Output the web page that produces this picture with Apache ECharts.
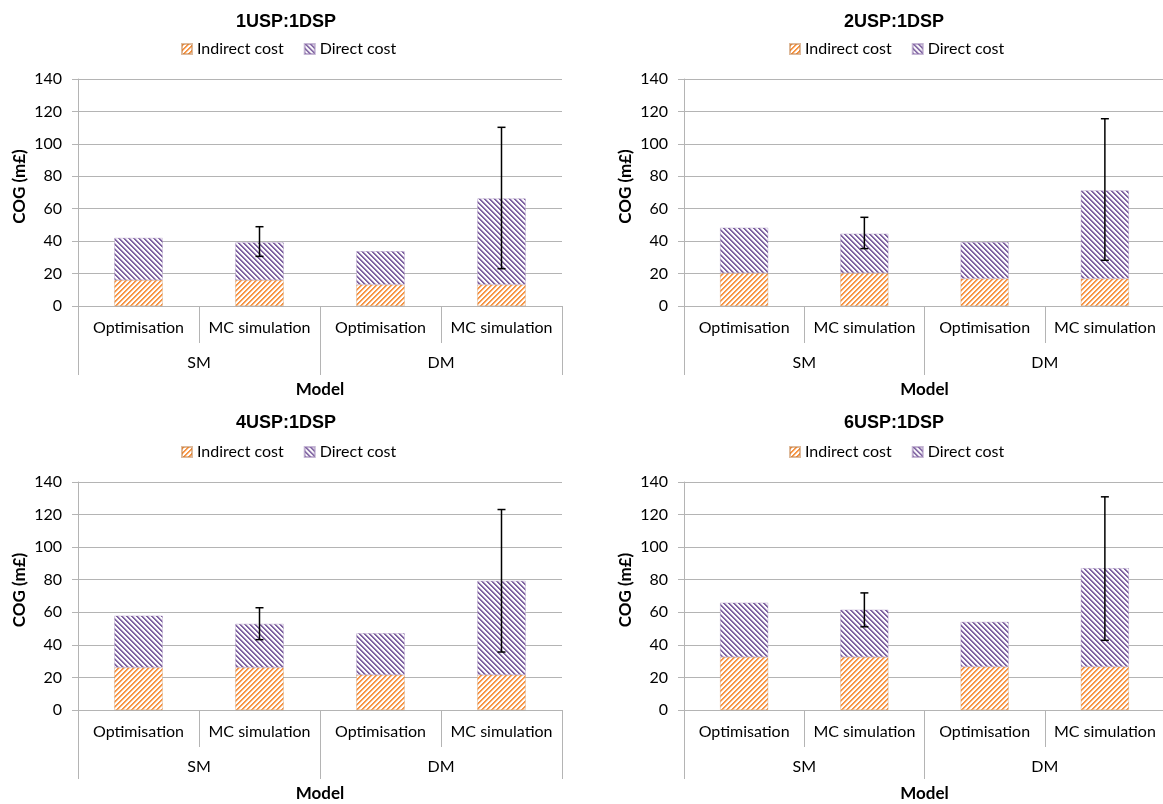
<!DOCTYPE html>
<html>
<head>
<meta charset="utf-8">
<script src="https://cdn.jsdelivr.net/npm/echarts@6/dist/echarts.min.js"></script>
<style>
html,body{margin:0;padding:0;background:#fff;}
#c{width:1163px;height:804px;}
</style>
</head>
<body>
<div id="c"></div>
<script>
// ---- data ----
const categories = ['Optimisation', 'MC simulation', 'Optimisation', 'MC simulation'];
const groups = ['SM', 'DM'];
const titles = ['1USP:1DSP', '2USP:1DSP', '4USP:1DSP', '6USP:1DSP'];
const seriesNames = ['Indirect cost', 'Direct cost'];
const yTicks = [0, 20, 40, 60, 80, 100, 120, 140];

const indirect1 = [16, 16, 13.2, 13.2];
const direct1   = [26, 23.2, 20.6, 53.1];
const errLow1   = [null, 30.6, null, 23];
const errHigh1  = [null, 48.9, null, 110.2];

const indirect2 = [20.3, 20.3, 16.9, 16.9];
const direct2   = [28, 24.3, 22.4, 54.4];
const errLow2   = [null, 35.4, null, 28.2];
const errHigh2  = [null, 54.7, null, 115.5];

const indirect3 = [26.1, 26.1, 21.6, 21.6];
const direct3   = [31.8, 26.8, 25.5, 57.7];
const errLow3   = [null, 43.2, null, 35.6];
const errHigh3  = [null, 62.8, null, 123.1];

const indirect4 = [32.5, 32.5, 26.6, 26.6];
const direct4   = [33.4, 29.1, 27.5, 60.5];
const errLow4   = [null, 51.1, null, 42.8];
const errHigh4  = [null, 71.9, null, 130.9];

const panels = [
  {indirect: indirect1, direct: direct1, lo: errLow1, hi: errHigh1},
  {indirect: indirect2, direct: direct2, lo: errLow2, hi: errHigh2},
  {indirect: indirect3, direct: direct3, lo: errLow3, hi: errHigh3},
  {indirect: indirect4, direct: direct4, lo: errLow4, hi: errHigh4}
];

// ---- styles ----
function makePattern(color, dir) {
  const s = 5;
  const c = document.createElement('canvas');
  c.width = s; c.height = s;
  const ctx = c.getContext('2d');
  ctx.fillStyle = '#ffffff';
  ctx.fillRect(0, 0, s, s);
  for (let x = 0; x < s; x++) {
    for (let y = 0; y < s; y++) {
      const m = dir > 0 ? (x + y) % s : (((x - y) % s) + s) % s;
      if (m < 2) { ctx.globalAlpha = 1; ctx.fillStyle = color; ctx.fillRect(x, y, 1, 1); }
      else if (m === 2) { ctx.globalAlpha = 0.35; ctx.fillStyle = color; ctx.fillRect(x, y, 1, 1); }
    }
  }
  ctx.globalAlpha = 1;
  return c;
}
const orangePat = {image: makePattern('#F79646', 1), repeat: 'repeat'};
const purplePat = {image: makePattern('#8064A2', -1), repeat: 'repeat'};

const gridCol = '#b4b4b4';
const labelFont = 'Lato';
const grids = [
  {left: 78, top: 79, width: 484, height: 227, cx: 281, titleTop: 8, legendTop: 36},
  {left: 684, top: 79, width: 481, height: 227, cx: 889, titleTop: 8, legendTop: 36},
  {left: 78, top: 482, width: 484, height: 228, cx: 281, titleTop: 409, legendTop: 439},
  {left: 684, top: 482, width: 481, height: 228, cx: 889, titleTop: 409, legendTop: 439}
];

const option = {
  animation: false,
  backgroundColor: '#ffffff',
  title: [], legend: [], grid: [], xAxis: [], yAxis: [], series: []
};

grids.forEach((g, i) => {
  option.title.push({
    text: titles[i], left: g.cx, top: g.titleTop, textAlign: 'center',
    textStyle: {fontFamily: 'Liberation Sans', fontWeight: 'bold', fontSize: 18, color: '#000'}
  });
  option.legend.push({
    data: seriesNames, left: g.cx - 105, top: g.legendTop,
    itemWidth: 10, itemHeight: 10, itemGap: 20, icon: 'rect',
    textStyle: {fontFamily: labelFont, fontSize: 16, color: '#000'},
    selectedMode: false
  });
  option.grid.push({left: g.left, top: g.top, width: g.width, height: g.height, containLabel: false, outerBoundsMode: 'none'});
  option.xAxis.push({
    type: 'category', gridIndex: i, data: categories, position: 'bottom',
    axisLine: {show: true, lineStyle: {color: gridCol, width: 1}},
    axisTick: {show: true, interval: 0, length: 37, lineStyle: {color: gridCol}},
    axisLabel: {interval: 0, margin: 14, fontFamily: labelFont, fontSize: 16, color: '#000'},
    splitLine: {show: false}
  });
  option.xAxis.push({
    type: 'category', gridIndex: i, data: groups, position: 'bottom', offset: 37,
    axisLine: {show: false},
    axisTick: {show: true, interval: 0, length: 32, lineStyle: {color: gridCol}},
    axisLabel: {interval: 0, margin: 12, fontFamily: labelFont, fontSize: 16, color: '#000'},
    name: 'Model', nameLocation: 'middle', nameGap: 38,
    nameTextStyle: {fontFamily: labelFont, fontWeight: 'bold', fontSize: 17, color: '#000'}
  });
  option.yAxis.push({
    type: 'value', gridIndex: i, min: yTicks[0], max: yTicks[yTicks.length - 1], interval: 20,
    axisLine: {show: true, lineStyle: {color: gridCol}},
    axisTick: {show: true, length: 6, inside: false, lineStyle: {color: gridCol}},
    axisLabel: {margin: 16, fontFamily: labelFont, fontSize: 16, color: '#000'},
    splitLine: {show: true, lineStyle: {color: gridCol, width: 1}},
    name: 'COG (m£)', nameLocation: 'middle', nameGap: 50, nameRotate: 90,
    nameTextStyle: {fontFamily: labelFont, fontWeight: 'bold', fontSize: 17, color: '#000', padding: [0, 0, 0, 12]}
  });
  const p = panels[i];
  option.series.push({
    name: seriesNames[0], type: 'bar', stack: 's' + i, xAxisIndex: 2 * i, yAxisIndex: i,
    data: p.indirect, barWidth: '40%',
    itemStyle: {color: orangePat, borderColor: 'rgba(190,120,60,0.5)', borderWidth: 0.6}
  });
  option.series.push({
    name: seriesNames[1], type: 'bar', stack: 's' + i, xAxisIndex: 2 * i, yAxisIndex: i,
    data: p.direct, barWidth: '40%',
    itemStyle: {color: purplePat, borderColor: 'rgba(140,110,170,0.5)', borderWidth: 0.6}
  });
  const errData = [];
  p.lo.forEach((lo, k) => { if (lo != null) errData.push([k, lo, p.hi[k]]); });
  option.series.push({
    type: 'custom', xAxisIndex: 2 * i, yAxisIndex: i, z: 10,
    data: errData,
    encode: {x: 0, y: [1, 2]},
    renderItem: function (params, api) {
      const x = api.value(0);
      const a = api.coord([x, api.value(1)]);
      const b = api.coord([x, api.value(2)]);
      const w = 4;
      const st = {stroke: '#000', lineWidth: 1.5};
      return {
        type: 'group',
        children: [
          {type: 'line', shape: {x1: a[0], y1: a[1], x2: b[0], y2: b[1]}, style: st},
          {type: 'line', shape: {x1: a[0] - w, y1: a[1], x2: a[0] + w, y2: a[1]}, style: st},
          {type: 'line', shape: {x1: b[0] - w, y1: b[1], x2: b[0] + w, y2: b[1]}, style: st}
        ]
      };
    }
  });
});

const chart = echarts.init(document.getElementById('c'), null, {renderer: 'canvas'});
chart.setOption(option);
</script>
</body>
</html>
